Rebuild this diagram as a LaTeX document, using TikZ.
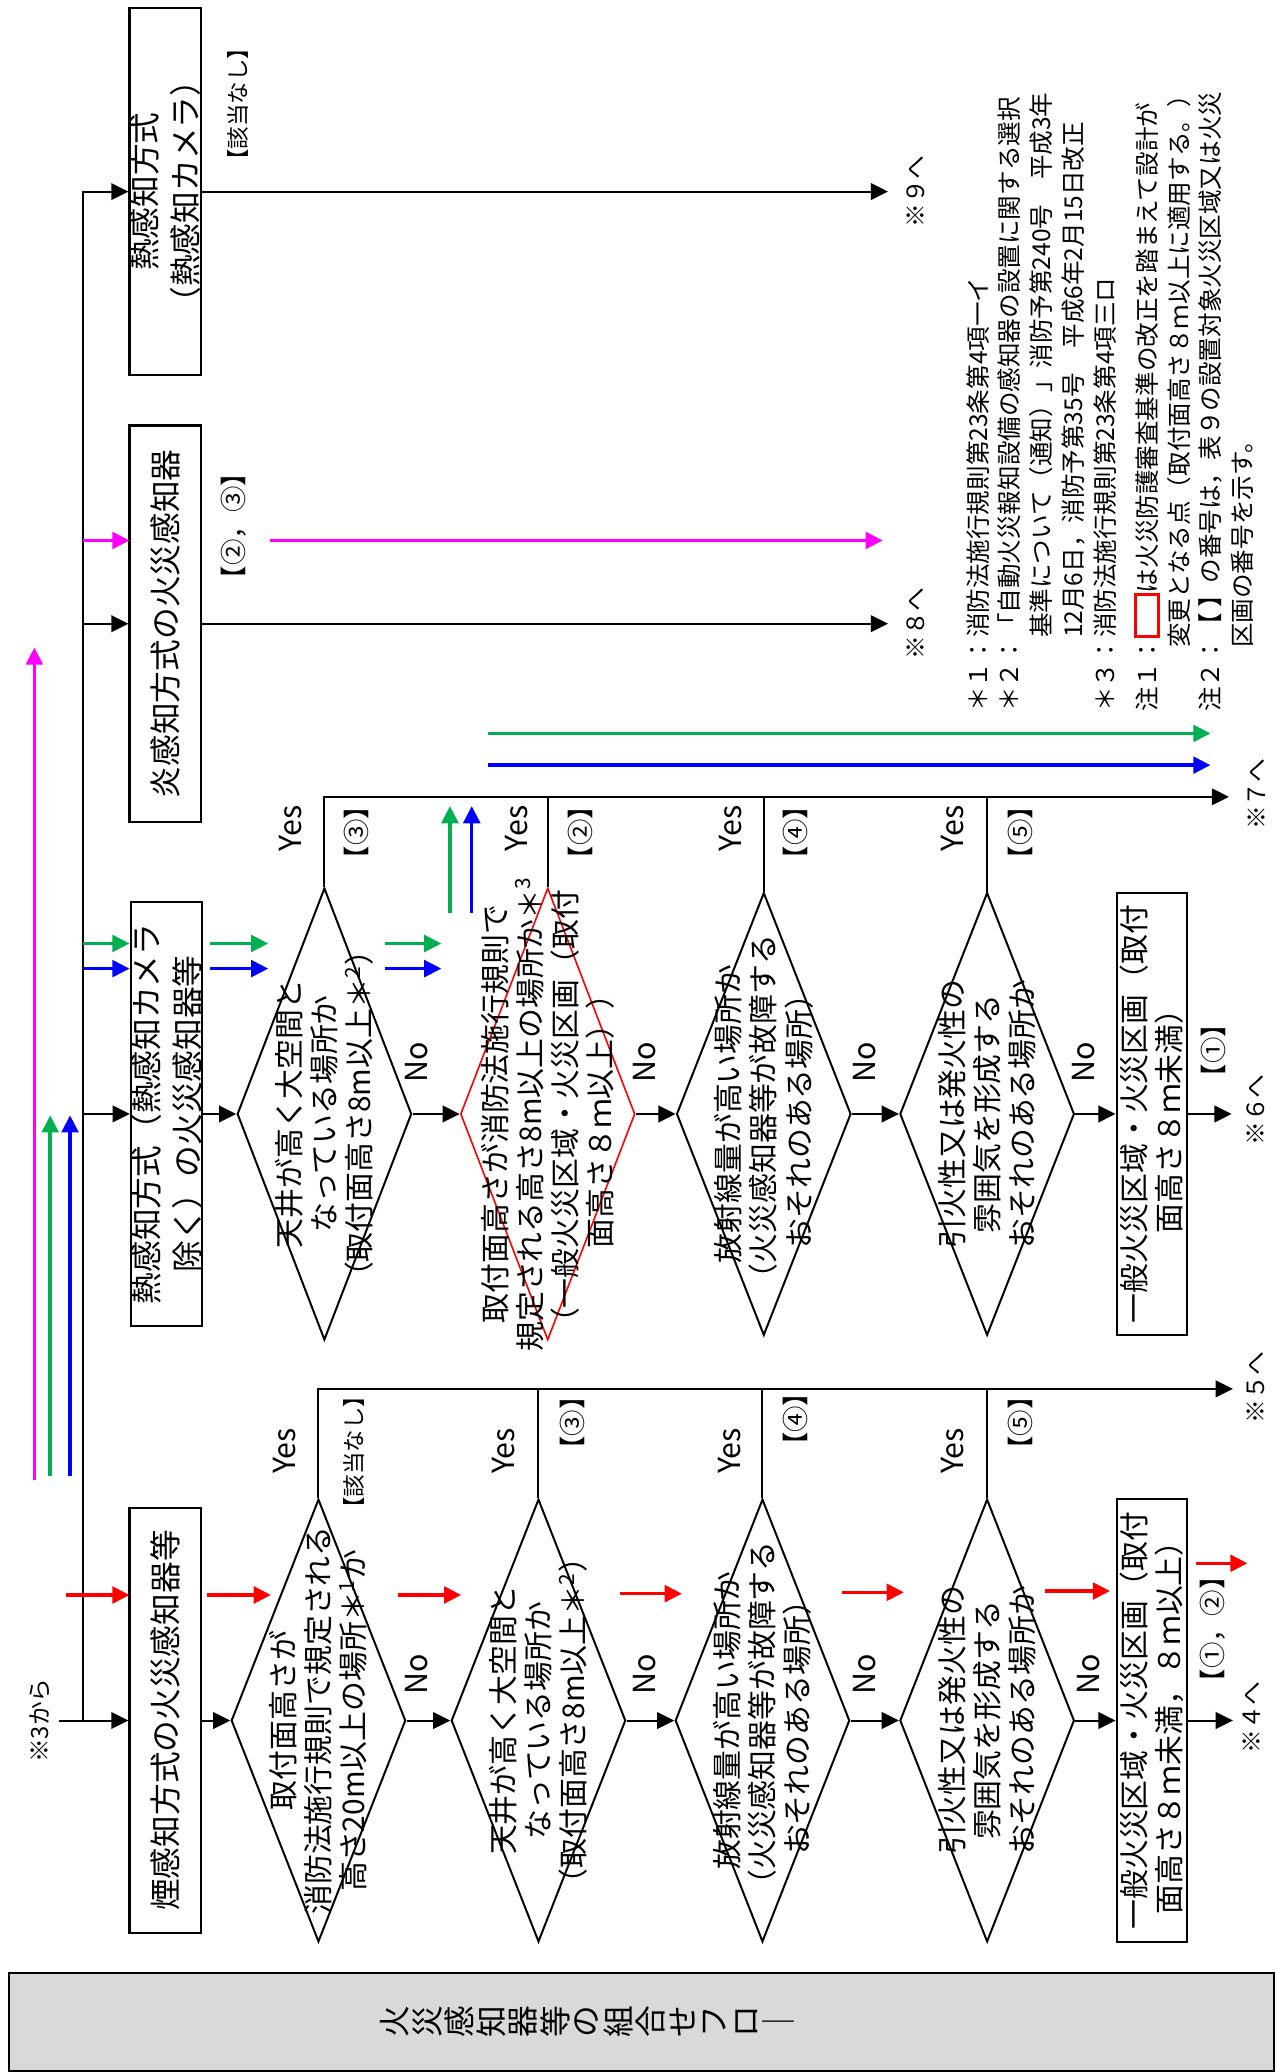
\documentclass[tikz,border=0pt]{standalone}
\usepackage{fontspec}
\setmainfont{Noto Sans CJK JP}
\usetikzlibrary{shapes.geometric,arrows.meta}
\definecolor{mag}{HTML}{FF00FF}
\definecolor{grn}{HTML}{00B050}
\definecolor{blu}{HTML}{0000FF}
\definecolor{rd}{HTML}{FF0000}
\definecolor{ttlgray}{HTML}{D9D9D9}
\newcommand{\redmark}{{\setlength{\fboxsep}{0pt}\setlength{\fboxrule}{1.3pt}\fcolorbox{rd}{white}{\rule[-0.2pt]{0pt}{7.4pt}\hspace{14.4pt}}}}

\begin{document}
\begin{tikzpicture}[x=0.5pt,y=-0.5pt]
    \tikzstyle{box}=[draw,line width=0.8pt,inner sep=0pt]
    \tikzstyle{dia}=[draw,diamond,line width=0.75pt,inner sep=0pt,minimum width=66pt,minimum height=167.5pt]
    \tikzstyle{vt}=[rotate=90,align=center,inner sep=0pt,font=\fontsize{12}{15.5}\selectfont]
    \tikzstyle{qt}=[vt,font=\fontsize{11.3}{13.25}\selectfont]
    \tikzstyle{lbl}=[rotate=90,inner sep=0pt,font=\fontsize{11.5}{13}\selectfont]
    \tikzstyle{num}=[rotate=90,inner sep=0pt,font=\fontsize{10}{12}\selectfont]
    \tikzstyle{goto}=[rotate=90,inner sep=0pt,font=\fontsize{9}{11}\selectfont]
    \tikzstyle{ar}=[-{Triangle[length=6.5pt,width=6.3pt]},line width=0.75pt]
    \tikzstyle{car}=[ar,line width=1.3pt]
    \useasboundingbox (0,0) rectangle (965,1568);

    % title
    \draw[fill=ttlgray,line width=0.8pt] (7,1493) rectangle (964,1567);
    \foreach \c [count=\i from 0] in {火,災,感,知,器,等,の,組,合,せ,フ,ロ,｜}
      \node[rotate=90,inner sep=0pt,font=\fontsize{12}{12}\selectfont] (ttl\i) at (299+24.2*\i,1530) {\c};

    % boxes
    \node[box,minimum width=27pt,minimum height=160.5pt] (smk) at (125,1302) {};
    \node[box,minimum width=27pt,minimum height=160.5pt] (ht) at (126,843) {};
    \node[box,minimum width=27pt,minimum height=150pt] (fl) at (125,472) {};
    \node[box,minimum width=27pt,minimum height=139pt] (cam) at (125,145) {};
    \node[box,minimum width=26.5pt,minimum height=167.5pt] (e1) at (871.5,1302) {};
    \node[box,minimum width=26.5pt,minimum height=167.5pt] (e2) at (871.5,843) {};
    \node[vt] (smkt) at (smk) {煙感知方式の火災感知器等};
    \node[vt] (htt) at (ht) {熱感知方式（熱感知カメラ\\除く）の火災感知器等};
    \node[vt] (flt) at (fl) {炎感知方式の火災感知器};
    \node[vt] (camt) at (cam) {熱感知方式\\（熱感知カメラ）};
    \node[qt] (e1t) at (e1) {一般火災区域・火災区画（取付\\面高さ８ｍ未満，８ｍ以上）};
    \node[qt] (e2t) at (e2) {一般火災区域・火災区画（取付\\面高さ８ｍ未満）};

    % diamonds
    \node[dia] (d11) at (241,1302) {};
    \node[dia] (d12) at (407.5,1302) {};
    \node[dia] (d13) at (577,1302) {};
    \node[dia] (d14) at (747,1302) {};
    \node[dia,minimum height=171pt] (d21) at (245.5,843) {};
    \node[dia,minimum height=171pt,draw=rd,line width=0.6pt] (d22) at (414.5,843) {};
    \node[dia] (d23) at (578,843) {};
    \node[dia] (d24) at (747,843) {};
    \node[qt] (t11) at (d11) {取付面高さが\\消防法施行規則で規定される\\高さ20m以上の場所＊\textsuperscript{1}か};
    \node[qt] (t12) at (d12) {天井が高く大空間と\\なっている場所か\\（取付面高さ8m以上＊\textsuperscript{2}）};
    \node[qt] (t13) at (d13) {放射線量が高い場所か\\（火災感知器等が故障する\\おそれのある場所）};
    \node[qt] (t14) at (d14) {引火性又は発火性の\\雰囲気を形成する\\おそれのある場所か};
    \node[qt] (t21) at (d21) {天井が高く大空間と\\なっている場所か\\（取付面高さ8m以上＊\textsuperscript{2}）};
    \node[qt] (t22) at (d22) {取付面高さが消防法施行規則で\\規定される高さ8m以上の場所か＊\textsuperscript{3}\\（一般火災区域・火災区画（取付\\面高さ８ｍ以上））};
    \node[qt] (t23) at (d23) {放射線量が高い場所か\\（火災感知器等が故障する\\おそれのある場所）};
    \node[qt] (t24) at (d24) {引火性又は発火性の\\雰囲気を形成する\\おそれのある場所か};

    % trunk
    \node[goto] (src) at (30,1302) {※3から};
    \coordinate (src0) at (45,1302);
    \coordinate (tt) at (63,1302);
    \draw[ar] (src0) -- (smk.west);
    \draw[ar] (tt) |- (cam.west);
    \draw[ar] (tt |- ht.west) -- (ht.west);
    \draw[ar] (tt |- fl.west) -- (fl.west);

    % No path
    \foreach \a/\b in {smk/d11,d11/d12,d12/d13,d13/d14,d14/e1,ht/d21,d21/d22,d22/d23,d23/d24,d24/e2}
      \draw[ar] (\a.east) -- (\b.west);
    \coordinate (to4) at (933,1302);
    \coordinate (to6) at (932,843);
    \coordinate (to8) at (672,472);
    \coordinate (to9) at (672,145);
    \draw[ar] (e1.east) -- (to4);
    \draw[ar] (e2.east) -- (to6);
    \draw[ar] (fl.east) -- (to8);
    \draw[ar] (cam.east) -- (to9);

    % Yes path
    \coordinate (to5) at (933,1051);
    \coordinate (to7) at (930,603);
    \draw[ar] (d11.north) |- (to5);
    \draw[ar] (d21.north) |- (to7);
    \foreach \n in {d12,d13,d14}
      \draw[line width=0.75pt] (\n.north) -- (\n.north |- to5);
    \foreach \n in {d22,d23,d24}
      \draw[line width=0.75pt] (\n.north) -- (\n.north |- to7);

    % goto labels
    \node[goto] (g4) at (947,1300) {※４へ};
    \node[goto] (g5) at (950,1050) {※５へ};
    \node[goto] (g6) at (950,840) {※６へ};
    \node[goto] (g7) at (951,601) {※７へ};
    \node[goto] (g8) at (693,472) {※８へ};
    \node[goto] (g9) at (693,145) {※９へ};

    % Yes / No
    \foreach \x in {215,381,552,721} \node[lbl] (ya\x) at (\x,1098) {Yes};
    \foreach \x in {220,391,553,721} \node[lbl] (yb\x) at (\x,627) {Yes};
    \foreach \x in {315,488,654,824} \node[lbl] (na\x) at (\x,1267) {No};
    \foreach \x in {315,488,654,820} \node[lbl] (nb\x) at (\x,804) {No};

    % table numbers
    \foreach \x/\y/\t in {433/1077/③,602/1074/④,772/1077/⑤,270/630/③,439/630/②,602/630/④,772/630/⑤,918/795/①}
      \node[num] (n\x-\y) at (\x,\y) {【\t】};
    \node[num] (n12) at (918,1233) {【①，②】};
    \node[num] (n23) at (177,398) {【②，③】};
    \node[num,font=\fontsize{8.5}{10}\selectfont] (nn1) at (268,1099) {【該当なし】};
    \node[num,font=\fontsize{8.5}{10}\selectfont] (nn2) at (180,79) {【該当なし】};

    % colour marks
    \foreach \a/\b/\y in {50/98/1207,157/205/1207,301/349/1207,469/516/1206,637/684/1205,791/840/1204,905/944/1183}
      \draw[car,rd] (\a,\y) -- (\b,\y);
    \foreach \a/\b in {63/98,159/203,291/334} {
      \draw[car,grn] (\a,714) -- (\b,714);
      \draw[car,blu] (\a,733) -- (\b,733);
    }
    \draw[car,grn] (340.5,691) -- (340.5,610);
    \draw[car,blu] (357,691) -- (357,610);
    \draw[car,grn] (369,555) -- (916,555);
    \draw[car,blu] (369,579) -- (916,579);
    \draw[car,mag] (26,1120) -- (26,490);
    \draw[car,grn] (38,1117) -- (38,844);
    \draw[car,blu] (53,1117) -- (53,844);
    \draw[car,mag] (63,409) -- (98,409);
    \draw[car,mag] (204,409) -- (668,409);

    % notes
    \node[rotate=90,anchor=north west,align=left,inner sep=0pt,font=\fontsize{9.3}{12}\selectfont] (note) at (731,539) {%
      ＊１：消防法施行規則第23条第4項一イ\\
      ＊２：「自動火災報知設備の感知器の設置に関する選択\\
      　　　基準について（通知）」消防予第240号　平成3年\\
      　　　12月6日，消防予第35号　平成6年2月15日改正\\
      ＊３：消防法施行規則第23条第4項三ロ\\[4pt]
      注１：\redmark{}は火災防護審査基準の改正を踏まえて設計が\\
      \hspace*{2.6em}変更となる点（取付面高さ８ｍ以上に適用する。）\\
      注２：【 】の番号は，表９の設置対象火災区域又は火災\\
      \hspace*{2.6em}区画の番号を示す。};
\end{tikzpicture}
\end{document}
